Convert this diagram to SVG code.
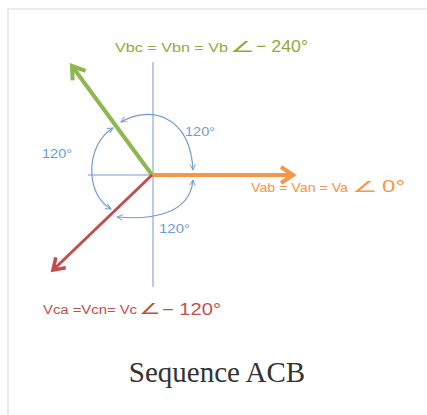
<svg xmlns="http://www.w3.org/2000/svg" width="427" height="415" viewBox="0 0 427 415">
<style>
.axis{stroke:#b9cde6;stroke-width:2;fill:none}
.arc{stroke:#6f9bd4;stroke-width:1.2;fill:none;marker-start:url(#ah);marker-end:url(#ah)}
.lbl{font-family:"Liberation Sans",Arial,sans-serif}
.deg{font-family:"Liberation Sans",Arial,sans-serif;font-size:12.5px;fill:#6f9bd4}
</style>
<defs>
<marker id="ah" viewBox="0 0 10 10" refX="9" refY="5" markerWidth="7" markerHeight="7" orient="auto-start-reverse" markerUnits="userSpaceOnUse">
<path d="M1,1 L9,5 L1,9" fill="none" stroke="#6f9bd4" stroke-width="1.3"/>
</marker>
<marker id="ag" viewBox="0 0 10 10" refX="8" refY="5" markerWidth="5" markerHeight="5" orient="auto">
<path d="M2,1 L8,5 L2,9" fill="none" stroke="#8db84d" stroke-width="2"/>
</marker>
<marker id="ao" viewBox="0 0 10 10" refX="8" refY="5" markerWidth="5" markerHeight="5" orient="auto">
<path d="M2,1 L8,5 L2,9" fill="none" stroke="#f79646" stroke-width="2"/>
</marker>
<marker id="ar" viewBox="0 0 10 10" refX="8" refY="5" markerWidth="6" markerHeight="6" orient="auto">
<path d="M2,1 L8,5 L2,9" fill="none" stroke="#c0504d" stroke-width="2"/>
</marker>
</defs>
<rect width="427" height="415" fill="#ffffff"/>
<g id="frame" stroke="#ebebeb" stroke-width="2" fill="none">
<path d="M8,415 V9 H427"/>
</g>
<g id="axes">
<line class="axis" x1="153" y1="62" x2="153" y2="287"/>
<line class="axis" x1="88" y1="175" x2="153" y2="175"/>
</g>
<g id="connectors">
<path class="arc" d="M121,122 C150,105 190,115 193,170"/>
<path class="arc" d="M113,128 C85,145 85,195 111,209"/>
<path class="arc" d="M117,217 C150,220 190,215 193,180"/>
</g>
<g id="phasor-b">
<line x1="152" y1="175" x2="72" y2="66" stroke="#8db84d" stroke-width="4" marker-end="url(#ag)"/>
</g>
<g id="phasor-a">
<line x1="152" y1="175" x2="293" y2="175" stroke="#f79646" stroke-width="4" marker-end="url(#ao)"/>
</g>
<g id="phasor-c">
<line x1="152" y1="175" x2="53" y2="270" stroke="#c0504d" stroke-width="3" marker-end="url(#ar)"/>
</g>
<g id="label-b" class="lbl" fill="#95a83c">
<text x="115" y="52" font-size="12" textLength="113" lengthAdjust="spacingAndGlyphs">Vbc = Vbn = Vb</text>
<text x="230" y="52" font-size="15" textLength="24" lengthAdjust="spacingAndGlyphs">∠</text>
<text x="256" y="52" font-size="17" textLength="52" lengthAdjust="spacingAndGlyphs">− 240°</text>
</g>
<g id="label-a" class="lbl" fill="#f79646">
<text x="251" y="192" font-size="13.5" textLength="97" lengthAdjust="spacingAndGlyphs">Vab = Van = Va</text>
<text x="352" y="192" font-size="15" textLength="25" lengthAdjust="spacingAndGlyphs">∠</text>
<text x="382" y="192" font-size="16" textLength="23" lengthAdjust="spacingAndGlyphs">0°</text>
</g>
<g id="label-c" class="lbl" fill="#c0504d">
<text x="43" y="314" font-size="12.5" textLength="94" lengthAdjust="spacingAndGlyphs">Vca =Vcn= Vc</text>
<text x="139" y="314" font-size="15" textLength="21" lengthAdjust="spacingAndGlyphs">∠</text>
<text x="162" y="315" font-size="16" textLength="59" lengthAdjust="spacingAndGlyphs">− 120°</text>
</g>
<g id="angle-labels">
<text class="deg" x="185" y="136" textLength="30" lengthAdjust="spacingAndGlyphs">120°</text>
<text class="deg" x="42" y="158" textLength="30" lengthAdjust="spacingAndGlyphs">120°</text>
<text class="deg" x="159" y="233" textLength="31" lengthAdjust="spacingAndGlyphs">120°</text>
</g>
<g id="caption">
<text x="217" y="382" text-anchor="middle" font-family="Liberation Serif,'Times New Roman',serif" font-size="29" fill="#333333">Sequence ACB</text>
</g>
</svg>
